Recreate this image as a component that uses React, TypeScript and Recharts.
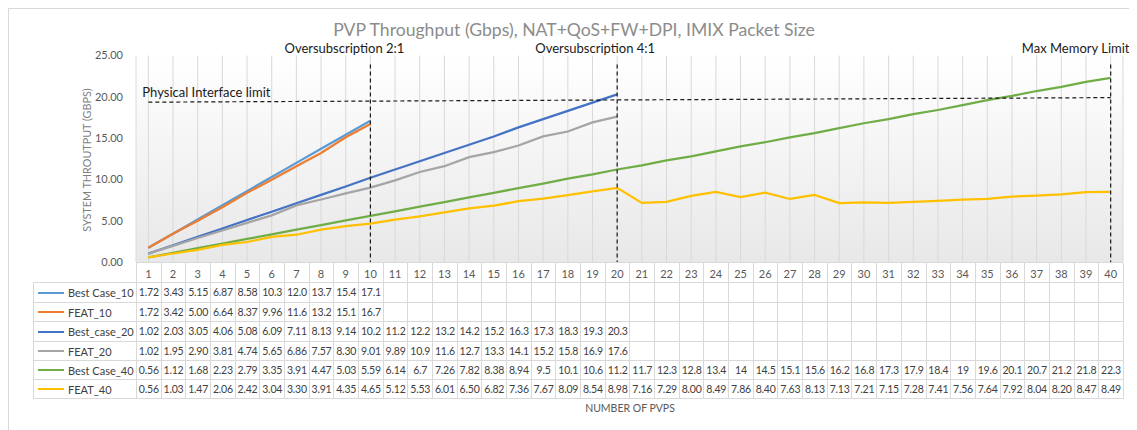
import React from 'react';
import { LineChart, Line, XAxis, YAxis, CartesianGrid, ReferenceLine } from 'recharts';

const pvps = [1, 2, 3, 4, 5, 6, 7, 8, 9, 10, 11, 12, 13, 14, 15, 16, 17, 18, 19, 20,
  21, 22, 23, 24, 25, 26, 27, 28, 29, 30, 31, 32, 33, 34, 35, 36, 37, 38, 39, 40];

const bestCase10 = [1.72, 3.43, 5.15, 6.87, 8.58, 10.3, 12.0, 13.7, 15.4, 17.1];
const feat10 = [1.72, 3.42, 5.0, 6.64, 8.37, 9.96, 11.6, 13.2, 15.1, 16.7];
const bestCase20 = [1.02, 2.03, 3.05, 4.06, 5.08, 6.09, 7.11, 8.13, 9.14, 10.2,
  11.2, 12.2, 13.2, 14.2, 15.2, 16.3, 17.3, 18.3, 19.3, 20.3];
const feat20 = [1.02, 1.95, 2.9, 3.81, 4.74, 5.65, 6.86, 7.57, 8.3, 9.01,
  9.89, 10.9, 11.6, 12.7, 13.3, 14.1, 15.2, 15.8, 16.9, 17.6];
const bestCase40 = [0.56, 1.12, 1.68, 2.23, 2.79, 3.35, 3.91, 4.47, 5.03, 5.59,
  6.14, 6.7, 7.26, 7.82, 8.38, 8.94, 9.5, 10.1, 10.6, 11.2,
  11.7, 12.3, 12.8, 13.4, 14, 14.5, 15.1, 15.6, 16.2, 16.8,
  17.3, 17.9, 18.4, 19, 19.6, 20.1, 20.7, 21.2, 21.8, 22.3];
const feat40 = [0.56, 1.03, 1.47, 2.06, 2.42, 3.04, 3.3, 3.91, 4.35, 4.65,
  5.12, 5.53, 6.01, 6.5, 6.82, 7.36, 7.67, 8.09, 8.54, 8.98,
  7.16, 7.29, 8.0, 8.49, 7.86, 8.4, 7.63, 8.13, 7.13, 7.21,
  7.15, 7.28, 7.41, 7.56, 7.64, 7.92, 8.04, 8.2, 8.47, 8.49];

const yTicks = [0, 5, 10, 15, 20, 25];

const markers = [
  { pvp: 10, label: 'Oversubscription 2:1' },
  { pvp: 20, label: 'Oversubscription 4:1' },
  { pvp: 40, label: 'Max Memory Limit' },
];
const interfaceLimit = { from: 19.35, to: 19.9, label: 'Physical Interface limit' };

const excelFmt = (v: number) => (v < 10 ? v.toFixed(2) : v.toFixed(1));
const rawFmt = (v: number) => String(v);

const series = [
  { key: 'bestCase10', name: 'Best Case_10', color: '#5B9BD5', values: bestCase10, fmt: excelFmt },
  { key: 'feat10', name: 'FEAT_10', color: '#ED7D31', values: feat10, fmt: excelFmt },
  { key: 'bestCase20', name: 'Best_case_20', color: '#4472C4', values: bestCase20, fmt: excelFmt },
  { key: 'feat20', name: 'FEAT_20', color: '#A5A5A5', values: feat20, fmt: excelFmt },
  { key: 'bestCase40', name: 'Best Case_40', color: '#70AD47', values: bestCase40, fmt: rawFmt },
  { key: 'feat40', name: 'FEAT_40', color: '#FFC000', values: feat40, fmt: excelFmt },
];

const data = pvps.map((p, i) => {
  const row: any = { pvp: p };
  series.forEach((s) => {
    row[s.key] = i < s.values.length ? s.values[i] : null;
  });
  return row;
});

const font = 'Lato, "Open Sans", sans-serif';
const labelShift: Record<number, number> = { 10: -26, 20: -22, 40: -35 };
const gridColor = '#d9d9d9';
const rowHeights = [20, 19, 20, 19, 19, 19];

function MarkerLabel(props: any) {
  const { viewBox, text, dx } = props;
  return (
    <text x={viewBox.x + dx} y={43.5} textAnchor="middle" fontSize={13} fill="#1a1a1a" fontFamily={font}>
      {text}
    </text>
  );
}

function LimitLabel(props: any) {
  const { viewBox, text } = props;
  return (
    <text x={viewBox.x - 6} y={87.5} fontSize={13} fill="#1a1a1a" fontFamily={font}>
      {text}
    </text>
  );
}

function YTitle() {
  return (
    <text x={77} y={151} transform="rotate(-90, 77, 151)" textAnchor="middle" dominantBaseline="central"
      fontSize={10.8} fill="#7f7f7f" fontFamily={font}>
      SYSTEM THROUTPUT (GBPS)
    </text>
  );
}

const cellW = 987 / 40;

function DataTable() {
  const cols = `103px repeat(40, ${cellW}px)`;
  return (
    <>
      <div style={{ position: 'absolute', left: 127, top: 253, width: 987, display: 'grid',
        gridTemplateColumns: `repeat(40, ${cellW}px)`, borderLeft: `1px solid ${gridColor}`, borderTop: `1px solid ${gridColor}`, boxSizing: 'border-box' }}>
        {pvps.map((p) => (
          <div key={p} style={{ height: 20, boxSizing: 'border-box', borderRight: `1px solid ${gridColor}` }} />
        ))}
      </div>
      <div style={{ position: 'absolute', left: 24, top: 273, width: 1090, display: 'grid',
        gridTemplateColumns: cols, borderLeft: `1px solid ${gridColor}`, borderTop: `1px solid ${gridColor}`,
        boxSizing: 'border-box', fontFamily: font, color: '#404040' }}>
        {series.map((s, r) => (
          <React.Fragment key={s.key}>
            <div style={{ height: rowHeights[r], boxSizing: 'border-box', borderRight: `1px solid ${gridColor}`,
              borderBottom: `1px solid ${gridColor}`, display: 'flex', alignItems: 'center', fontSize: 11 }}>
              <span style={{ display: 'inline-block', flexShrink: 0, width: 26, height: 2, background: s.color, marginLeft: 4, marginRight: 4 }} />
              <span>{s.name}</span>
            </div>
            {pvps.map((p, i) => (
              <div key={p} style={{ height: rowHeights[r], boxSizing: 'border-box', borderRight: `1px solid ${gridColor}`,
                borderBottom: `1px solid ${gridColor}`, fontSize: 10.5, textAlign: 'center', lineHeight: `${rowHeights[r] - 1}px`,
                whiteSpace: 'nowrap', overflow: 'visible', letterSpacing: -0.2 }}>
                {i < s.values.length ? s.fmt(s.values[i]) : ''}
              </div>
            ))}
          </React.Fragment>
        ))}
      </div>
    </>
  );
}

export default function App() {
  return (
    <div style={{ position: 'relative', width: 1129, height: 422, boxSizing: 'border-box',
      borderTop: `1px solid ${gridColor}`, borderLeft: `1px solid ${gridColor}`, background: '#fff', overflow: 'hidden' }}>
      <div style={{ position: 'absolute', left: 0, top: 10, width: 1130, textAlign: 'center', fontFamily: font,
        fontSize: 17.6, color: '#8c8c8c', lineHeight: '22px' }}>
        PVP Throughput (Gbps), NAT+QoS+FW+DPI, IMIX Packet Size
      </div>
      <DataTable />
      <div style={{ position: 'absolute', left: 521, top: 392, width: 200, textAlign: 'center', fontFamily: font,
        fontSize: 10.5, color: '#595959', lineHeight: '14px' }}>
        NUMBER OF PVPS
      </div>
      <div style={{ position: 'absolute', left: 0, top: 0 }}>
        <LineChart width={1128} height={290} data={data} margin={{ top: 46.5, right: 14, left: 0, bottom: 7 }}>
          <defs>
            <linearGradient id="plotBg" x1="0" y1="0" x2="0" y2="1">
              <stop offset="0%" stopColor="#ffffff" />
              <stop offset="100%" stopColor="#e8e8e8" />
            </linearGradient>
          </defs>
          <CartesianGrid horizontal={false} stroke={gridColor} fill="url(#plotBg)" fillOpacity={1} />
          <XAxis dataKey="pvp" interval={0} axisLine={false} tickLine={false} height={30}
            padding={{ left: cellW / 2, right: cellW / 2 }} tickMargin={2}
            tick={{ fontSize: 11, fill: '#595959', fontFamily: font }} />
          <YAxis domain={[0, 25]} ticks={yTicks} width={127} axisLine={false} tickLine={false} tickMargin={7}
            tickFormatter={(v: number) => v.toFixed(2)} tick={{ fontSize: 11, fill: '#595959', fontFamily: font }}
            label={<YTitle />} />
          {series.map((s) => (
            <Line key={s.key} type="linear" dataKey={s.key} name={s.name} stroke={s.color} strokeWidth={2.25}
              dot={false} activeDot={false} isAnimationActive={false} />
          ))}
          <ReferenceLine segment={[{ x: 1, y: interfaceLimit.from }, { x: 40, y: interfaceLimit.to }]}
            stroke="#1a1a1a" strokeWidth={1.2} strokeDasharray="4 3" ifOverflow="visible"
            label={<LimitLabel text={interfaceLimit.label} />} />
          {markers.map((m) => (
            <ReferenceLine key={m.pvp} segment={[{ x: m.pvp, y: 23.9 }, { x: m.pvp, y: 0 }]}
              stroke="#1a1a1a" strokeWidth={1.2} strokeDasharray="4 3" ifOverflow="visible"
              label={<MarkerLabel text={m.label} dx={labelShift[m.pvp]} />} />
          ))}
        </LineChart>
      </div>
    </div>
  );
}
